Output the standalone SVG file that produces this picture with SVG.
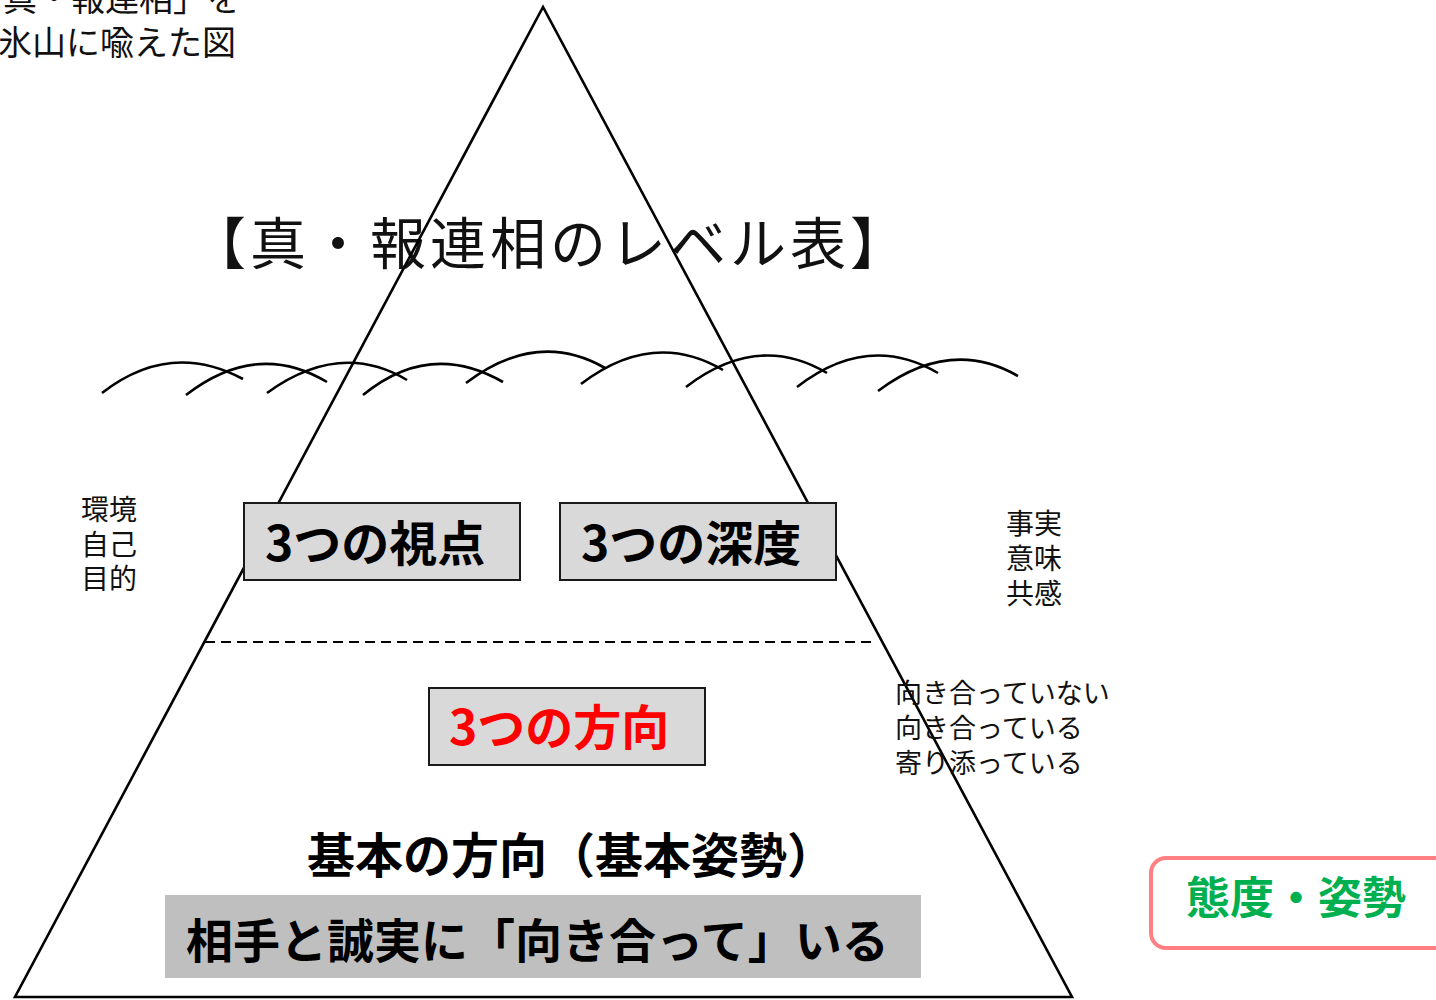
<svg xmlns="http://www.w3.org/2000/svg" width="1436" height="1000" viewBox="0 0 1436 1000">
<style>
  text { font-family: "Noto Sans CJK JP", "Noto Sans", sans-serif; }
  .thin { font-weight: 400; fill: #111; }
  .bold { font-weight: 700; fill: #000; }
  .box { fill: #d9d9d9; stroke: #1a1a1a; stroke-width: 2; }
  .wave { fill: none; stroke: #000; stroke-width: 2.6; stroke-linecap: butt; }
</style>
<rect width="1436" height="1000" fill="#ffffff"/>

<g id="caption">
  <text class="thin" font-size="34"><tspan x="-31" y="11">「真・報連相」を</tspan><tspan x="-2" y="55">氷山に喩えた図</tspan></text>
</g>

<g id="title">
  <text class="thin" x="190" y="264" font-size="56" fill="#000" textLength="716" lengthAdjust="spacing">【真・報連相のレベル表】</text>
</g>

<g id="waves">
  <path class="wave" d="M102,393 Q170,340 243,379"/>
  <path class="wave" d="M186,395 Q257,340 327,382"/>
  <path class="wave" d="M267,393 Q340,340 407,380"/>
  <path class="wave" d="M363,395 Q430,340 503,382"/>
  <path class="wave" d="M466,383 Q537,329 605,368"/>
  <path class="wave" d="M581,384 Q653,329 723,370"/>
  <path class="wave" d="M686,387 Q758,332 827,373"/>
  <path class="wave" d="M797,387 Q868,332 938,373"/>
  <path class="wave" d="M878,391 Q950,337 1018,376"/>
</g>

<g id="connectors">
  <polygon points="543,7 15,997 1072,997" fill="none" stroke="#000" stroke-width="2.6" stroke-linejoin="miter"/>
  <line x1="205" y1="642" x2="876" y2="642" stroke="#000" stroke-width="2.2" stroke-dasharray="10,6"/>
</g>

<g id="node-viewpoints">
  <rect class="box" x="244" y="503" width="276" height="77"/>
  <text class="bold" x="265" y="561" font-size="48">3つの視点</text>
</g>

<g id="node-depth">
  <rect class="box" x="560" y="503" width="276" height="77"/>
  <text class="bold" x="581" y="561" font-size="48">3つの深度</text>
</g>

<g id="node-direction">
  <rect class="box" x="429" y="688" width="276" height="77"/>
  <text class="bold" x="449" y="745" font-size="48" style="fill:#ff0000">3つの方向</text>
</g>

<g id="left-labels">
  <text class="thin" font-size="28"><tspan x="81" y="520">環境</tspan><tspan x="81" y="555">自己</tspan><tspan x="81" y="589">目的</tspan></text>
</g>

<g id="right-labels">
  <text class="thin" font-size="28"><tspan x="1006" y="534">事実</tspan><tspan x="1006" y="569">意味</tspan><tspan x="1006" y="604">共感</tspan></text>
</g>

<g id="direction-labels">
  <text class="thin" font-size="27"><tspan x="895" y="703">向き合っていない</tspan><tspan x="895" y="738">向き合っている</tspan><tspan x="895" y="773">寄り添っている</tspan></text>
</g>

<g id="basic-direction">
  <text class="bold" x="307" y="873" font-size="48">基本の方向（基本姿勢）</text>
</g>

<g id="basic-statement">
  <rect x="165" y="895" width="756" height="83" fill="#bfbfbf"/>
  <text class="bold" x="186" y="958" font-size="47">相手と誠実に「向き合って」いる</text>
</g>

<g id="attitude">
  <rect x="1151" y="858" width="310" height="90" rx="15" ry="15" fill="#ffffff" stroke="#ff7f82" stroke-width="4"/>
  <text x="1186" y="914" font-size="44" font-weight="700" fill="#00b050">態度・姿勢</text>
</g>
</svg>
